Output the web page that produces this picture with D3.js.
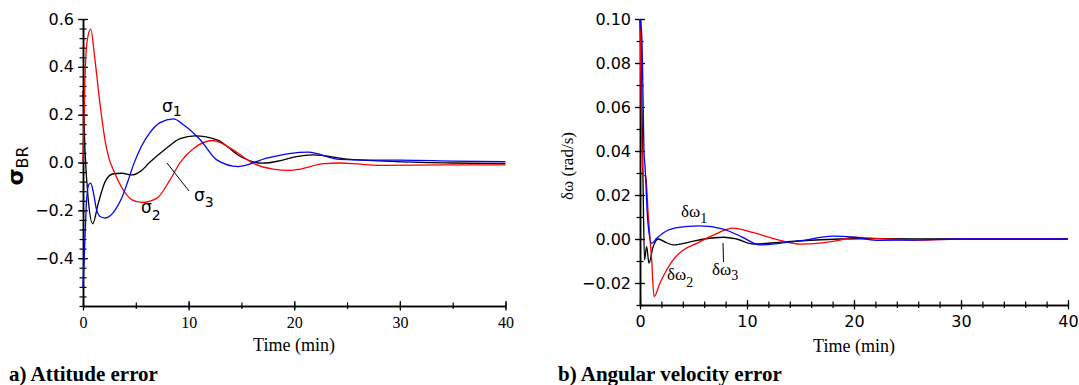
<!DOCTYPE html>
<html>
<head>
<meta charset="utf-8">
<script src="https://cdn.jsdelivr.net/npm/d3@7"></script>
<style>
  body { margin: 0; background: #fff; }
  svg { display: block; }
  .sans { font-family: "DejaVu Sans", sans-serif; }
  .serif { font-family: "Liberation Serif", "Times New Roman", serif; }
  .domain { stroke: #000; stroke-width: 1.5; }
  .tick line { stroke: #000; stroke-width: 1.2; }
</style>
</head>
<body>
<div id="chart"></div>
<script>
// panel a) attitude error, time in minutes
const sigma1 = [[0,-0.52],[0.2,-0.3],[0.35,-0.15],[0.55,-0.092],[0.73,-0.086],[1.0,-0.13],[1.3,-0.2],[1.7,-0.228],[2.1,-0.232],[2.6,-0.222],[3.1,-0.195],[3.6,-0.155],[4.2,-0.085],[4.77,-0.01],[5.5,0.065],[6.3,0.123],[7.3,0.167],[8.55,0.182],[9.6,0.155],[11.1,0.095],[12.66,0.011],[14.7,-0.017],[17.4,0.018],[19.5,0.037],[21.3,0.043],[24.3,0.013],[27,0.01],[30,0.01],[35,0.006],[40,0.003]]
const sigma2 = [[0,0.0],[0.19,0.36],[0.4,0.51],[0.73,0.558],[1.13,0.43],[1.6,0.248],[2.08,0.095],[2.5,0.011],[2.87,-0.03],[3.8,-0.114],[4.6,-0.155],[5.55,-0.167],[6.97,-0.15],[8.24,-0.073],[9.2,0],[10.5,0.06],[12.3,0.092],[14.2,0.053],[16.1,-0.003],[18,-0.028],[19.5,-0.033],[20.2,-0.03],[22.8,-0.005],[24.3,-0.002],[26,-0.006],[28,-0.012],[31.3,-0.011],[35,-0.01],[40,-0.01]]
const sigma3 = [[0,0.3],[0.19,0.05],[0.5,-0.156],[0.92,-0.256],[1.45,-0.17],[2.1,-0.08],[2.87,-0.047],[3.7,-0.045],[4.6,-0.052],[5.5,-0.035],[6.3,0],[7.9,0.06],[9.2,0.1],[10.6,0.111],[12.7,0.095],[14.9,0.025],[17,-0.003],[18.7,0.008],[20.2,0.025],[21.8,0.032],[25,0.014],[29.7,0.004],[35,-0.002],[40,-0.005]]

// panel b) angular velocity error (rad/s)
const dw1 = [[0,0.1],[0.16,0.093],[0.31,0.057],[0.37,0.04],[0.47,0.033],[0.72,0.0086],[1.09,-0.002],[1.56,0.0003],[2.65,0.0041],[4.2,0.0056],[5.6,0.006],[7.8,0.0045],[9.5,0.001],[11.2,-0.0027],[13,-0.002],[15,-0.0008],[18,0.0013],[20,0.0008],[22.1,-0.0006],[25,-0.0005],[30,0],[40,0]]
const dw2 = [[0,0.1],[0.15,0.05],[0.31,0.029],[0.53,0.0286],[0.78,0.0101],[1.09,-0.0095],[1.31,-0.0262],[1.87,-0.02],[2.5,-0.014],[3.1,-0.0095],[4.05,-0.005],[5.3,-0.002],[6.85,0.0018],[8.7,0.0049],[10.5,0.003],[13,-0.0005],[15,-0.0023],[18.7,-0.0005],[19.9,0.0008],[22,0.0003],[25.9,-0.0005],[30,0],[40,0]]
const dw3 = [[0,0.1],[0.1,0.085],[0.3,0.02],[0.42,-0.0095],[0.62,-0.0035],[0.84,-0.011],[1.2,-0.004],[1.7,0.0],[2.4,-0.0015],[3.1,-0.0027],[4.5,-0.0015],[6,0],[7.8,0.0008],[9,0],[10.6,-0.0023],[13,-0.0015],[15,-0.0008],[18.7,0],[22,0.0002],[30,0],[40,0]]

const xTicks = [0, 10, 20, 30, 40]
const sigmaTicks = [-0.4, -0.2, 0.0, 0.2, 0.4, 0.6]
const dwTicks = [-0.02, 0.00, 0.02, 0.04, 0.06, 0.08, 0.10]

const W = 1079, H = 385
const svg = d3.select('#chart').append('svg').attr('width', W).attr('height', H)
svg.append('rect').attr('width', W).attr('height', H).attr('fill', '#fff')

const line = (x, y) => d3.line().x(d => x(d[0])).y(d => y(d[1])).curve(d3.curveMonotoneX)

function crossTicks(g, inner, outer, horizontal) {
	g.selectAll('.tick line').each(function() {
		const l = d3.select(this)
		if (horizontal) l.attr('y1', inner).attr('y2', outer)
		else l.attr('x1', inner).attr('x2', outer)
	})
}

function panel(o) {
	const x = d3.scaleLinear().domain([0, 40]).range([o.left, o.right])
	const y = d3.scaleLinear().domain(o.yDomain).range([o.bottom, o.top])
	const g = svg.append('g')

	// minor ticks
	g.append('g').attr('transform', `translate(${o.left},0)`)
		.call(d3.axisLeft(y).tickValues(o.yMinor).tickSize(3).tickSizeOuter(0).tickFormat(''))
		.call(a => crossTicks(a, 3.5, -3.5, false))
	g.append('g').attr('transform', `translate(0,${o.bottom})`)
		.call(d3.axisBottom(x).tickValues(o.xMinor).tickSize(3).tickSizeOuter(0).tickFormat(''))
		.call(a => crossTicks(a, -3.5, 3, true))

	// major ticks
	const ya = g.append('g').attr('transform', `translate(${o.left},0)`)
		.call(d3.axisLeft(y).tickValues(o.yTicks).tickSize(5).tickSizeOuter(0).tickPadding(4).tickFormat(d3.format(o.yFmt)))
		.call(a => crossTicks(a, 5, -5, false))
	ya.selectAll('text').attr('class', 'sans').attr('font-size', 16).attr('fill', '#000')
	ya.selectAll('.tick text').attr('x', -9)

	const xa = g.append('g').attr('transform', `translate(0,${o.bottom})`)
		.call(d3.axisBottom(x).tickValues(xTicks).tickSize(5).tickSizeOuter(0).tickPadding(6))
		.call(a => crossTicks(a, -5, 4.5, true))
	xa.selectAll('text').attr('class', o.xFont).attr('font-size', o.xFontSize).attr('fill', '#000')
	g.selectAll('.domain').attr('stroke', '#000').attr('stroke-width', 1.5)

	// series
	o.series.forEach(s => {
		g.append('path').datum(s.data)
			.attr('fill', 'none').attr('stroke', s.color).attr('stroke-width', 1.3)
			.attr('d', line(x, y))
	})
	return {x, y, g}
}

const a = panel({
	left: 83, right: 505.5, top: 19, bottom: 306,
	yDomain: [-0.6, 0.6], yTicks: sigmaTicks, yFmt: '.1f',
	yMinor: d3.range(-0.6, 0.61, 0.04).map(v => +v.toFixed(2)),
	xMinor: d3.range(0, 41, 5), xFont: 'serif', xFontSize: 16,
	series: [{data: sigma3, color: '#000'}, {data: sigma2, color: '#f00'}, {data: sigma1, color: '#00f'}]
})

const b = panel({
	left: 640, right: 1068, top: 19, bottom: 305,
	yDomain: [-0.03, 0.10], yTicks: dwTicks, yFmt: '.2f',
	yMinor: d3.range(-0.03, 0.101, 0.01).map(v => +v.toFixed(2)),
	xMinor: d3.range(0, 41, 2), xFont: 'sans', xFontSize: 16,
	series: [{data: dw3, color: '#000'}, {data: dw2, color: '#f00'}, {data: dw1, color: '#00f'}]
})

// curve labels
function subLabel(g, cls, x, y, main, sub, size, subSize, dy) {
	const t = g.append('text').attr('class', cls).attr('x', x).attr('y', y).attr('font-size', size)
	t.append('tspan').text(main)
	t.append('tspan').attr('font-size', subSize).attr('dy', dy).text(sub)
}
subLabel(a.g, 'sans', 162, 112, 'σ', '1', 17, 14, 4)
subLabel(a.g, 'sans', 141, 213, 'σ', '2', 17, 14, 7)
subLabel(a.g, 'sans', 194, 200.5, 'σ', '3', 17, 14, 6)
a.g.append('line').attr('x1', 167).attr('y1', 163).attr('x2', 189).attr('y2', 191).attr('stroke', '#000').attr('stroke-width', 1)

subLabel(b.g, 'serif', 681, 216.5, 'δω', '1', 17, 14, 6)
subLabel(b.g, 'serif', 667, 280, 'δω', '2', 17, 14, 7)
subLabel(b.g, 'serif', 712, 275, 'δω', '3', 17, 14, 5)
b.g.append('line').attr('x1', 723).attr('y1', 243).attr('x2', 723.5).attr('y2', 262).attr('stroke', '#000').attr('stroke-width', 1)

// axis titles
svg.append('text').attr('class', 'serif').attr('x', 294).attr('y', 351).attr('text-anchor', 'middle').attr('font-size', 18).text('Time (min)')
svg.append('text').attr('class', 'serif').attr('x', 854).attr('y', 352).attr('text-anchor', 'middle').attr('font-size', 18).text('Time (min)')

const yl = svg.append('text').attr('class', 'sans').attr('transform', 'translate(23,166) rotate(-90)').attr('text-anchor', 'middle')
yl.append('tspan').attr('font-size', 22).attr('font-weight', 'bold').text('σ')
yl.append('tspan').attr('font-size', 16).attr('dy', 5).text('BR')

svg.append('text').attr('class', 'serif').attr('transform', 'translate(573,166) rotate(-90)').attr('text-anchor', 'middle')
	.attr('font-size', 17).text('δω (rad/s)')

// panel captions
svg.append('text').attr('class', 'serif').attr('x', 9).attr('y', 381).attr('font-size', 21).attr('font-weight', 'bold').text('a) Attitude error')
svg.append('text').attr('class', 'serif').attr('x', 558).attr('y', 381).attr('font-size', 21).attr('font-weight', 'bold').text('b) Angular velocity error')
</script>
</body>
</html>
